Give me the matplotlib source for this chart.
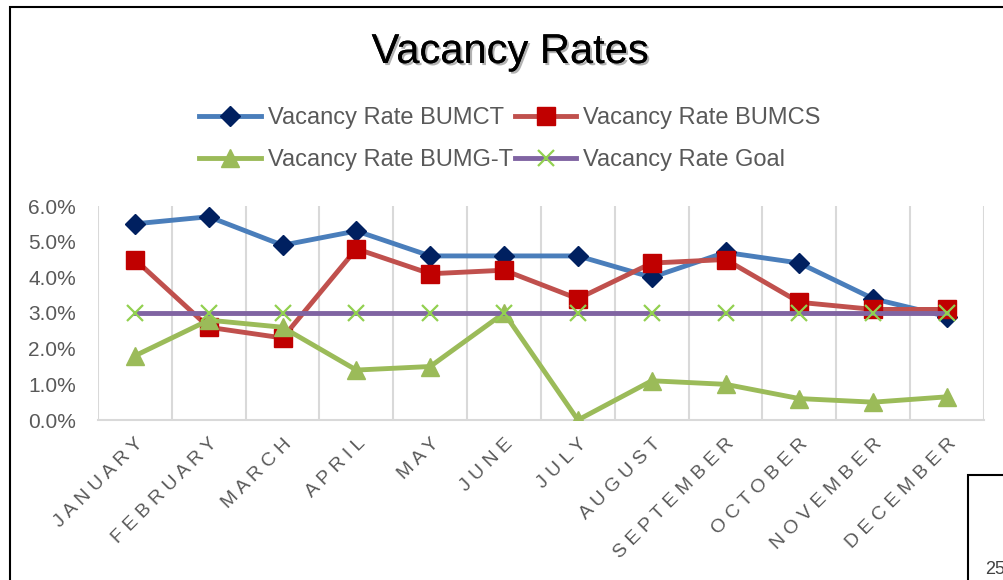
import matplotlib
matplotlib.use("Agg")
import matplotlib.pyplot as plt
import matplotlib.patheffects as pe
from matplotlib.patches import Rectangle
from matplotlib.ticker import PercentFormatter, FixedLocator

# data
months = ["JANUARY", "FEBRUARY", "MARCH", "APRIL", "MAY", "JUNE", "JULY",
          "AUGUST", "SEPTEMBER", "OCTOBER", "NOVEMBER", "DECEMBER"]
bumct = [5.5, 5.7, 4.9, 5.3, 4.6, 4.6, 4.6, 4.0, 4.7, 4.4, 3.4, 2.9]
bumcs = [4.5, 2.6, 2.3, 4.8, 4.1, 4.2, 3.4, 4.4, 4.5, 3.3, 3.1, 3.1]
bumgt = [1.8, 2.8, 2.6, 1.4, 1.5, 3.0, 0.0, 1.1, 1.0, 0.6, 0.5, 0.65]
goal = [3.0] * 12
yticks = [0, 1, 2, 3, 4, 5, 6]

plt.rcParams['font.family'] = ['Liberation Sans', 'DejaVu Sans']

W, H = 1004, 580
fig = plt.figure(figsize=(W / 100, H / 100), dpi=100)
ax = fig.add_axes([98 / W, 1 - 420 / H, (984 - 98) / W, (420 - 206) / H])

x = list(range(len(months)))
l1, = ax.plot(x, bumct, color="#4A7EBB", lw=3.5, marker="D", ms=10,
              mfc="#002060", mec="#002060", label="Vacancy Rate BUMCT", zorder=3)
l2, = ax.plot(x, bumcs, color="#C0504D", lw=3.5, marker="s", ms=13,
              mfc="#C00000", mec="#C00000", label="Vacancy Rate BUMCS", zorder=4)
l3, = ax.plot(x, bumgt, color="#9BBB59", lw=3.5, marker="^", ms=13,
              mfc="#9BBB59", mec="#9BBB59", label="Vacancy Rate BUMG-T", zorder=5)
l4, = ax.plot(x, goal, color="#8064A2", lw=3.5, marker="x", ms=11, mew=1.6,
              mfc="#92D050", mec="#92D050", label="Vacancy Rate Goal", zorder=6)

ax.set_xlim(-0.5, len(months) - 0.5)
ax.set_ylim(0, 6)
ax.set_yticks(yticks)
ax.yaxis.set_major_formatter(PercentFormatter(decimals=1))
ax.set_xticks(x)
# Excel-style wide letter spacing
ax.set_xticklabels([" ".join(m) for m in months], rotation=45, ha="right",
                   rotation_mode="anchor", fontsize=14, color="#595959")
ax.xaxis.set_minor_locator(FixedLocator([i - 0.5 for i in range(len(months) + 1)]))
ax.grid(axis="x", which="minor", color="#D9D9D9", lw=1.5)
ax.tick_params(axis="both", which="both", length=0)
ax.tick_params(axis="y", labelsize=15, labelcolor="#595959", pad=16)
ax.tick_params(axis="x", pad=11)
for s in ["top", "right", "left"]:
    ax.spines[s].set_visible(False)
ax.spines["bottom"].set_color("#D9D9D9")
ax.spines["bottom"].set_linewidth(1.5)

fig.text(510 / W, 1 - 52 / H, "Vacancy Rates", ha="center", va="center",
         fontsize=30, color="black",
         path_effects=[pe.withSimplePatchShadow(offset=(1.5, -1.5),
                                                shadow_rgbFace="gray", alpha=0.6),
                       pe.Normal()])

fig.legend([l1, l3, l2, l4], [l1.get_label(), l3.get_label(), l2.get_label(), l4.get_label()],
           loc="center", bbox_to_anchor=(510 / W, 1 - 139 / H), ncol=2,
           frameon=False, fontsize=17, handlelength=2.6, handletextpad=0.3,
           columnspacing=0.1, labelspacing=0.85, labelcolor="#595959")

# chart frame and the neighbouring box from the page
fig.add_artist(Rectangle((10 / W, -0.1), 1.2, 1 - 7 / H + 0.1,
                         transform=fig.transFigure, fill=False,
                         ec="black", lw=1.5))
fig.add_artist(Rectangle((968 / W, -0.1), 0.2, 1 - 475 / H + 0.1,
                         transform=fig.transFigure, fill=False,
                         ec="black", lw=1.5))
fig.text(985 / W, 1 - 570 / H, "25", fontsize=13, color="#404040",
         ha="left", va="center")

fig.savefig("out.png", dpi=100)
